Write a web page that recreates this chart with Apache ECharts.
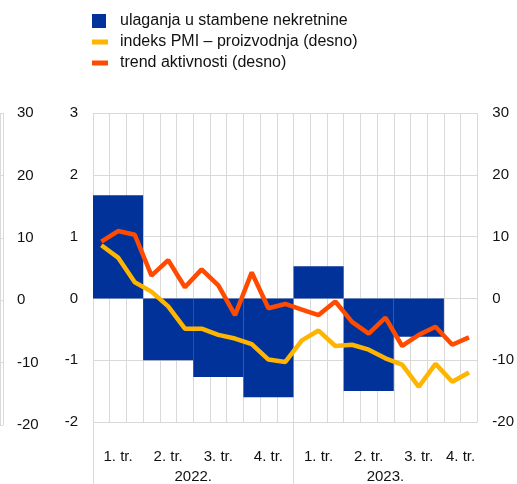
<!DOCTYPE html>
<html>
<head>
<meta charset="utf-8">
<script src="https://cdn.jsdelivr.net/npm/echarts@6/dist/echarts.min.js"></script>
<style>
  html, body { margin: 0; padding: 0; background: #fff; }
  #chart { width: 517px; height: 484px; }
</style>
</head>
<body>
<div id="chart"></div>
<script>
// kvartali (zadnji kvartal 2023. ima samo dva mjeseca)
const quarterLabels = ['1. tr.', '2. tr.', '3. tr.', '4. tr.', '1. tr.', '2. tr.', '3. tr.', '4. tr.'];
const quarterLengths = [3, 3, 3, 3, 3, 3, 3, 2];
const yearLabels = ['2022.', '2023.'];
const yearLengths = [12, 11];

// ulaganja u stambene nekretnine (lijevo, tromjesečno)
const housingInvestment = [1.67, -1.0, -1.27, -1.6, 0.52, -1.5, -0.62, null];
// indeks PMI – proizvodnja (desno, mjesečno)
const pmiOutput = [8.6, 6.6, 2.6, 1.1, -1.3, -4.9, -4.9, -5.9, -6.5, -7.4, -9.9, -10.3,
  -6.8, -5.2, -7.7, -7.5, -8.3, -9.7, -10.7, -14.3, -10.6, -13.5, -12.0];
// trend aktivnosti (desno, mjesečno)
const activityTrend = [9.2, 10.9, 10.3, 3.7, 6.2, 1.8, 4.7, 2.1, -2.7, 4.2, -1.6, -0.9,
  -1.8, -2.7, -0.5, -3.8, -5.7, -3.1, -7.7, -5.9, -4.6, -7.5, -6.3];

const months = pmiOutput.length;
const FONT = 'Liberation Sans, Arial, sans-serif';
const GRID_COLOR = '#d9d9d9';
const TEXT_COLOR = '#111';

// bars span their quarter: [startMonth, endMonth, value]
const barData = [];
let start = 0;
quarterLengths.forEach((len, i) => {
  if (housingInvestment[i] !== null) barData.push([start, start + len, housingInvestment[i]]);
  start += len;
});

// half-month category axes for the labels under the plot
const halfSlots = months * 2 + 1;
const quarterAxisData = new Array(halfSlots).fill('');
const quarterTicks = new Set();
start = 0;
quarterLengths.forEach((len, i) => {
  quarterTicks.add(start * 2);
  quarterAxisData[start * 2 + len] = quarterLabels[i];
  start += len;
});
quarterTicks.add(start * 2);

const yearAxisData = new Array(halfSlots).fill('');
const yearTicks = new Set();
start = 0;
yearLengths.forEach((len, i) => {
  yearTicks.add(start * 2);
  yearAxisData[start * 2 + len] = yearLabels[i];
  start += len;
});

const chart = echarts.init(document.getElementById('chart'));

const option = {
  animation: false,
  textStyle: { fontFamily: FONT },
  legend: [
    {
      left: 92, top: 13, padding: 0, itemWidth: 14, itemHeight: 14,
      textStyle: { fontSize: 16, color: TEXT_COLOR, padding: [0, 0, 0, 9] },
      data: [{ name: 'ulaganja u stambene nekretnine', icon: 'rect' }],
      selectedMode: false
    },
    {
      left: 92, top: 32, padding: 0, orient: 'vertical', itemWidth: 16, itemHeight: 5, itemGap: 1,
      textStyle: { fontSize: 16, color: TEXT_COLOR, lineHeight: 20, padding: [0, 0, 0, 7] },
      data: [
        { name: 'indeks PMI – proizvodnja (desno)', icon: 'rect' },
        { name: 'trend aktivnosti (desno)', icon: 'rect' }
      ],
      selectedMode: false
    }
  ],
  grid: [
    { left: 93, right: 37, top: 113, bottom: 59 },
    { left: 0, right: 514, top: 113, bottom: 59 }   // ostatak susjednog grafikona lijevo
  ],
  xAxis: [
    {
      type: 'value', gridIndex: 0, min: 0, max: months, interval: 1,
      axisLine: { show: false }, axisTick: { show: false }, axisLabel: { show: false },
      splitLine: { show: true, lineStyle: { color: GRID_COLOR, width: 1 } }
    },
    {
      type: 'category', gridIndex: 0, position: 'bottom', boundaryGap: false,
      data: quarterAxisData,
      axisLine: { show: false },
      axisTick: {
        show: true, length: 43, lineStyle: { color: GRID_COLOR },
        interval: (idx) => quarterTicks.has(idx)
      },
      axisLabel: { interval: 0, margin: 27, fontSize: 15, color: TEXT_COLOR }
    },
    {
      type: 'category', gridIndex: 0, position: 'bottom', boundaryGap: false,
      data: yearAxisData,
      axisLine: { show: false },
      axisTick: {
        show: true, length: 70, lineStyle: { color: GRID_COLOR },
        interval: (idx) => yearTicks.has(idx)
      },
      axisLabel: { interval: 0, margin: 47, fontSize: 15, color: TEXT_COLOR }
    },
    {
      type: 'value', gridIndex: 1, position: 'bottom', min: 0, max: 1, interval: 1,
      axisLine: { show: false },
      axisTick: { show: true, length: 70, lineStyle: { color: GRID_COLOR } },
      axisLabel: { show: false },
      splitLine: { show: true, lineStyle: { color: GRID_COLOR, width: 1 } }
    }
  ],
  yAxis: [
    {
      type: 'value', gridIndex: 0, position: 'left', min: -2, max: 3, interval: 1,
      axisLine: { show: false }, axisTick: { show: false },
      axisLabel: { margin: 15, fontSize: 15, color: TEXT_COLOR },
      splitLine: { show: true, lineStyle: { color: GRID_COLOR, width: 1 } }
    },
    {
      type: 'value', gridIndex: 0, position: 'right', min: -20, max: 30, interval: 10,
      axisLine: { show: false }, axisTick: { show: false },
      axisLabel: { margin: 15, fontSize: 15, color: TEXT_COLOR },
      splitLine: { show: false }
    },
    {
      type: 'value', gridIndex: 1, position: 'right', min: -20, max: 30, interval: 10,
      axisLine: { show: false }, axisTick: { show: false },
      axisLabel: { margin: 14, fontSize: 15, color: TEXT_COLOR },
      splitLine: { show: true, lineStyle: { color: GRID_COLOR, width: 1 } }
    }
  ],
  series: [
    {
      name: 'ulaganja u stambene nekretnine',
      type: 'custom',
      xAxisIndex: 0, yAxisIndex: 0,
      itemStyle: { color: '#003299' },
      encode: { x: [0, 1], y: 2 },
      data: barData,
      renderItem: (params, api) => {
        const p0 = api.coord([api.value(0), 0]);
        const p1 = api.coord([api.value(1), api.value(2)]);
        return {
          type: 'rect',
          shape: {
            x: p0[0], y: Math.min(p0[1], p1[1]),
            width: p1[0] - p0[0], height: Math.abs(p1[1] - p0[1])
          },
          style: { fill: '#003299' }
        };
      }
    },
    {
      name: 'indeks PMI – proizvodnja (desno)',
      type: 'line', xAxisIndex: 0, yAxisIndex: 1,
      showSymbol: false, symbol: 'none',
      itemStyle: { color: '#ffb400' },
      lineStyle: { color: '#ffb400', width: 4.5 },
      data: pmiOutput.map((v, i) => [i + 0.5, v])
    },
    {
      name: 'trend aktivnosti (desno)',
      type: 'line', xAxisIndex: 0, yAxisIndex: 1,
      showSymbol: false, symbol: 'none',
      itemStyle: { color: '#ff4b00' },
      lineStyle: { color: '#ff4b00', width: 4.5 },
      data: activityTrend.map((v, i) => [i + 0.5, v])
    }
  ]
};

chart.setOption(option);
</script>
</body>
</html>
